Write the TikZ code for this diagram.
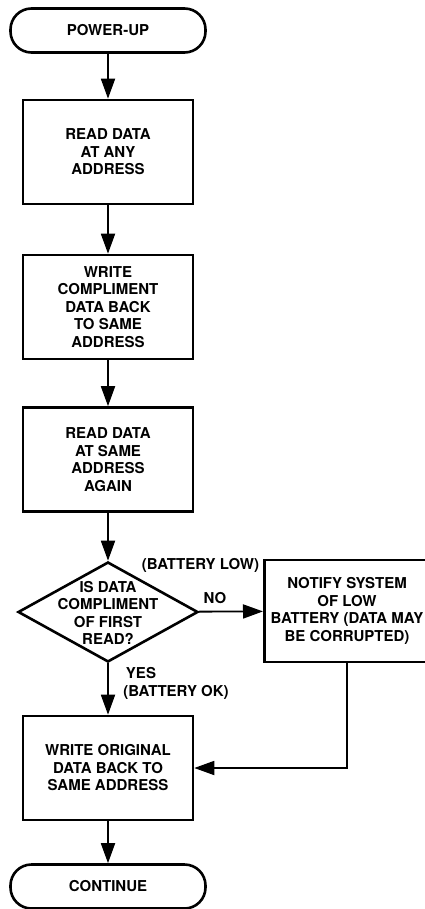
\documentclass[tikz,border=0pt]{standalone}
\usepackage{fontspec}
\setmainfont{TeX Gyre Heros}
\usetikzlibrary{shapes.geometric,arrows.meta}

\begin{document}
\begin{tikzpicture}
  [x=1pt,y=-1pt,
   every node/.style={font=\fontsize{15}{17.5}\selectfont\bfseries,align=center},
   box/.style={draw,line width=2.6pt,minimum width=170pt,minimum height=104pt,inner sep=0pt},
   term/.style={draw,line width=2.6pt,rounded corners=21pt,minimum width=195pt,minimum height=44pt},
   decision/.style={draw,diamond,line width=2.6pt,minimum width=180pt,minimum height=100pt,inner sep=0pt},
   arrow/.style={line width=1.8pt,-{Triangle[length=20pt,width=14pt]}}]
  \useasboundingbox (0,0) rectangle (425,909);
  \clip (0,0) rectangle (425,909);

  \node[term] (power) at (108,30.5) {POWER-UP};
  \node[box] (read1) at (108,152) {READ DATA\\AT ANY\\ADDRESS};
  \node[box] (write1) at (108,307) {WRITE\\COMPLIMENT\\DATA BACK\\TO SAME\\ADDRESS};
  \node[box] (read2) at (108,459.5) {READ DATA\\AT SAME\\ADDRESS\\AGAIN};
  \node[decision] (check) at (108,612) {};
  \node (checktext) at (108,613) {IS DATA\\COMPLIMENT\\OF FIRST\\READ?};
  \node[box,minimum width=200pt,minimum height=102pt,anchor=west] (notify) at (263,611) {};
  \node (notifytext) at (347,611) {NOTIFY SYSTEM\\OF LOW\\BATTERY (DATA MAY\\BE CORRUPTED)};
  \node[box] (write2) at (108,768) {WRITE ORIGINAL\\DATA BACK TO\\SAME ADDRESS};
  \node[term] (cont) at (108,886.5) {CONTINUE};

  \node (lowlbl) at (200.5,565) {(BATTERY LOW)};
  \node (nolbl) at (215,598) {NO};
  \node (yeslbl) at (141,673) {YES};
  \node (oklbl) at (176,692) {(BATTERY OK)};

  \foreach \from/\to in {power/read1,read1/write1,write1/read2,read2/check,check/write2,write2/cont}
    \draw[arrow] (\from) -- (\to);
  \draw[arrow] (check) -- (notify);
  \draw[arrow] (notifytext |- notify.south) |- (write2.east);

\end{tikzpicture}
\end{document}
